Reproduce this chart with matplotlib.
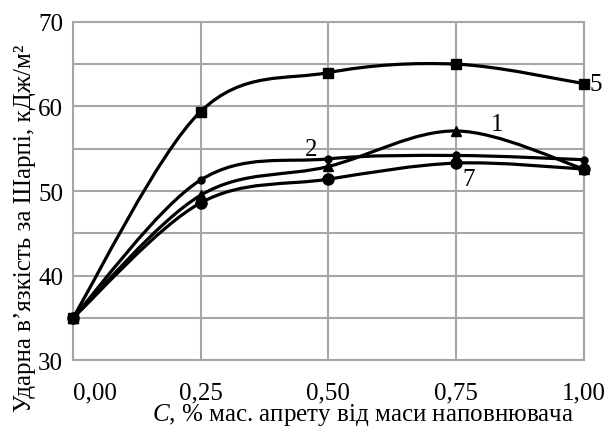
import numpy as np
import matplotlib
matplotlib.use("Agg")
import matplotlib.pyplot as plt
from matplotlib.path import Path
from matplotlib.patches import PathPatch

plt.rcParams["font.family"] = ["Liberation Serif", "DejaVu Serif"]
plt.rcParams["mathtext.fontset"] = "custom"
plt.rcParams["mathtext.it"] = "Liberation Serif:italic"
plt.rcParams["mathtext.rm"] = "Liberation Serif"

# -----------------------------
# data
# -----------------------------
c_vals = [0.0, 0.25, 0.50, 0.75, 1.00]
x_ticklabels = ["0,00", "0,25", "0,50", "0,75", "1,00"]
y_ticks = [30, 40, 50, 60, 70]

s5 = [35.0, 59.4, 64.0, 65.0, 62.7]
s1 = [35.0, 49.5, 52.9, 57.1, 52.6]
s2 = [35.0, 51.3, 53.8, 54.2, 53.7]
s7 = [35.0, 48.6, 51.4, 53.3, 52.6]

GRID = "#a6a6a6"


def smooth_path(xs, ys, tension=1 / 6):
    # Catmull-Rom -> cubic Bezier segments (like a spreadsheet "smoothed line")
    pts = np.column_stack([xs, ys]).astype(float)
    n = len(pts)
    verts = [pts[0]]
    codes = [Path.MOVETO]
    for i in range(n - 1):
        p0 = pts[i - 1] if i > 0 else pts[i]
        p1 = pts[i]
        p2 = pts[i + 1]
        p3 = pts[i + 2] if i + 2 < n else pts[i + 1]
        c1 = p1 + (p2 - p0) * tension
        c2 = p2 - (p3 - p1) * tension
        verts += [c1, c2, p2]
        codes += [Path.CURVE4] * 3
    return Path(verts, codes)


fig = plt.figure(figsize=(6.07, 4.31), dpi=100)
ax = fig.add_axes([0.120, 0.162, 0.842, 0.785])

series = [
    (s5, "s", 7),
    (s1, "^", 7),
    (s2, "o", 5),
    (s7, "o", 8),
]
for ys, mk, ms in series:
    ax.add_patch(PathPatch(smooth_path(c_vals, ys), facecolor="none",
                           edgecolor="black", lw=2.3, zorder=3))
    ax.plot(c_vals, ys, linestyle="none", marker=mk, ms=ms,
            color="black", zorder=4, clip_on=False)

ax.set_xlim(0, 1.0)
ax.set_ylim(30, 70)
ax.set_xticks(c_vals)
ax.set_xticklabels(x_ticklabels, fontsize=18)
ax.get_xticklabels()[0].set_horizontalalignment("left")
ax.set_yticks(y_ticks)
ax.set_yticks([35, 45, 55, 65], minor=True)
ax.set_yticklabels([str(v) for v in y_ticks], fontsize=18)
ax.tick_params(axis="both", which="both", length=0)
ax.tick_params(axis="x", pad=15)
ax.tick_params(axis="y", pad=7)

ax.grid(True, which="both", color=GRID, lw=1.5)
ax.set_axisbelow(True)
for sp in ax.spines.values():
    sp.set_color(GRID)
    sp.set_linewidth(1.5)

ax.set_ylabel("Ударна в’язкість за Шарпі, кДж/м²", fontsize=18)
ax.yaxis.set_label_coords(-0.072, 0.394)
ax.set_xlabel("$C$, % мас. апрету від маси наповнювача", fontsize=18)
ax.xaxis.set_label_coords(0.567, -0.122)

# curve numbers
ax.text(1.01, s5[-1], "5", fontsize=18, va="center", ha="left", clip_on=False)
ax.text(0.83, 57.9, "1", fontsize=18, va="center", ha="center")
ax.text(0.467, 55.0, "2", fontsize=18, va="center", ha="center")
ax.text(0.775, 51.4, "7", fontsize=18, va="center", ha="center")

fig.savefig("out.png", dpi=100)
